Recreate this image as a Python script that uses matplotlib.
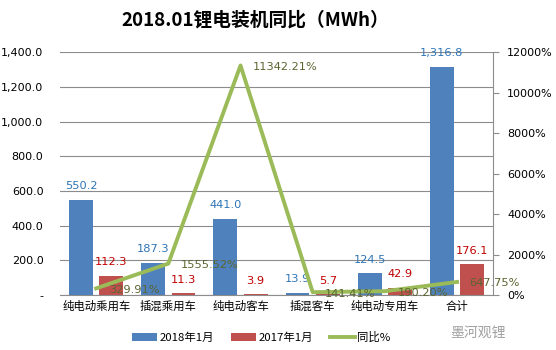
import matplotlib
matplotlib.use("Agg")
import matplotlib.pyplot as plt
import numpy as np
from matplotlib.ticker import FuncFormatter

plt.rcParams['font.family'] = ['Noto Sans CJK SC', 'DejaVu Sans']

categories = ["纯电动乘用车", "插混乘用车", "纯电动客车", "插混客车", "纯电动专用车", "合计"]
jan2018 = [550.2, 187.3, 441.0, 13.9, 124.5, 1316.8]
jan2017 = [112.3, 11.3, 3.9, 5.7, 42.9, 176.1]
yoy_pct = [329.91, 1555.52, 11342.21, 141.41, 190.20, 647.75]

c_blue = "#4F81BD"
c_red = "#C0504D"
c_green = "#9BBB59"

fig = plt.figure(figsize=(5.56, 3.5), dpi=100)
ax = fig.add_axes([0.108, 0.157, 0.779, 0.694])
ax2 = ax.twinx()

x = np.arange(len(categories))
w = 0.33
off = 0.21
b1 = ax.bar(x - off, jan2018, w, color=c_blue, label="2018年1月", zorder=2)
b2 = ax.bar(x + off, jan2017, w, color=c_red, label="2017年1月", zorder=2)

for xi, v in zip(x, jan2018):
    ax.annotate(f"{v:,.1f}", (xi - off, v), xytext=(0, 6), textcoords="offset points",
                ha="center", va="bottom", fontsize=8.2, color="#2E75B6", family="DejaVu Sans")
for xi, v in zip(x, jan2017):
    ax.annotate(f"{v:,.1f}", (xi + off, v), xytext=(0, 6), textcoords="offset points",
                ha="center", va="bottom", fontsize=8.2, color="#C00000", family="DejaVu Sans")

ax.set_xlim(-0.5, len(categories) - 0.5)
ax.set_ylim(0, 1400)
ax.set_yticks(np.arange(0, 1401, 200))
ax.yaxis.set_major_formatter(FuncFormatter(lambda v, p: "-" if v == 0 else f"{v:,.1f}"))
ax.grid(axis="y", color="#8C8C8C", linewidth=0.8, zorder=0)
ax.set_axisbelow(True)
for s in ["top", "left", "right"]:
    ax.spines[s].set_visible(False)
ax.spines["bottom"].set_color("#8C8C8C")
ax.tick_params(axis="y", length=0, labelsize=8, pad=12)
ax.tick_params(axis="x", length=0, labelsize=8.2, pad=4)
ax.set_xticks(x)
ax.set_xticklabels(categories)
for lab in ax.get_yticklabels():
    lab.set_family("DejaVu Sans")

ln, = ax2.plot(x, yoy_pct, color=c_green, linewidth=2.8, label="同比%", zorder=3)
for xi, v in zip(x, yoy_pct):
    ax2.annotate(f"{v:.2f}%", (xi, v), xytext=(9, -1), textcoords="offset points",
                 ha="left", va="center", fontsize=8.2, color="#5A6530", family="DejaVu Sans")
ax2.set_ylim(0, 12000)
ax2.set_yticks(np.arange(0, 12001, 2000))
ax2.yaxis.set_major_formatter(FuncFormatter(lambda v, p: f"{v:.0f}%"))
for s in ["top", "left", "bottom"]:
    ax2.spines[s].set_visible(False)
ax2.spines["right"].set_color("#8C8C8C")
ax2.tick_params(axis="y", direction="out", length=4, color="#8C8C8C", labelsize=8, pad=6)
for lab in ax2.get_yticklabels():
    lab.set_family("DejaVu Sans")

fig.text(0.459, 0.943, "2018.01锂电装机同比（MWh）", ha="center", va="center",
         fontsize=13.5, fontweight="bold")

fig.legend(handles=[b1, b2, ln], loc="center", bbox_to_anchor=(0.47, 0.037), ncol=3,
           frameon=False, fontsize=8.2, handlelength=2.2, handleheight=0.7,
           columnspacing=1.5, handletextpad=0.2)

fig.text(0.91, 0.048, "墨河观锂", ha="right", va="center", fontsize=10, color="#A0A0A0")

fig.savefig("out.png", dpi=100)
